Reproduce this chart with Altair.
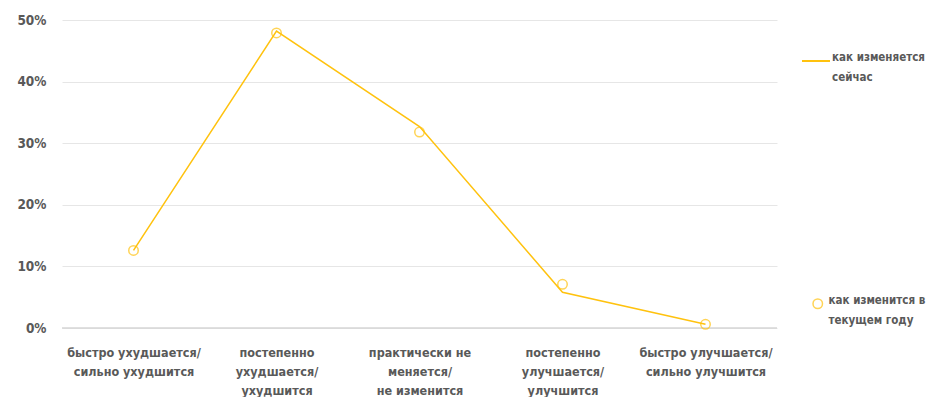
import altair as alt
import pandas as pd

categories = [
    "быстро ухудшается/|сильно ухудшится",
    "постепенно|ухудшается/|ухудшится",
    "практически не|меняется/|не изменится",
    "постепенно|улучшается/|улучшится",
    "быстро улучшается/|сильно улучшится",
]
now_values = [12.6, 48.2, 32.7, 5.8, 0.6]
year_values = [12.6, 47.9, 31.8, 7.1, 0.6]
series_now = "как изменяется|сейчас"
series_year = "как изменится в|текущем году"
y_ticks = [0, 10, 20, 30, 40, 50]

YELLOW = "#FFC20E"
TEXT = "#595959"
FONT = "DejaVu Sans Condensed"

df_now = pd.DataFrame({"cat": categories, "v": now_values, "s": series_now})
df_year = pd.DataFrame({"cat": categories, "v": year_values, "s": series_year})

x = alt.X(
    "cat:N",
    sort=categories,
    scale=alt.Scale(paddingInner=0, paddingOuter=0),
    axis=alt.Axis(
        title=None, labelAngle=0, ticks=False, domain=False,
        labelExpr="split(datum.value, '|')", labelLineHeight=19,
        labelPadding=24, labelFontSize=12.5, labelFont=FONT,
        labelFontWeight="bold", labelColor=TEXT, labelBaseline="middle",
        grid=False,
    ),
)
y = alt.Y(
    "v:Q",
    scale=alt.Scale(domain=[0, 50], nice=False),
    axis=alt.Axis(
        title=None, values=y_ticks, labelExpr="datum.value + '%'",
        ticks=False, domain=False, labelPadding=16, labelFontSize=13.5,
        labelFont=FONT, labelFontWeight="bold", labelColor=TEXT,
        gridColor="#e6e6e6", gridWidth=1,
    ),
)

line = alt.Chart(df_now).mark_line(strokeWidth=1.5).encode(
    x=x, y=y,
    stroke=alt.Stroke(
        "s:N",
        scale=alt.Scale(domain=[series_now], range=[YELLOW]),
        legend=alt.Legend(
            title=None, orient="none", legendX=739, legendY=26,
            symbolType="stroke", symbolSize=784, symbolStrokeWidth=2,
            labelExpr="split(datum.label, '|')",
            labelFont=FONT, labelFontSize=11.5, labelFontWeight="bold",
            labelColor=TEXT, labelOffset=1, labelBaseline="alphabetic",
            padding=0, labelLimit=300,
        ),
    ),
)

points = alt.Chart(df_year).mark_point(filled=False, size=90, strokeWidth=1.5).encode(
    x=x, y=y,
    shape=alt.Shape(
        "s:N",
        scale=alt.Scale(domain=[series_year], range=["circle"]),
        legend=alt.Legend(
            title=None, orient="none", legendX=750, legendY=278,
            symbolStrokeColor=YELLOW, symbolFillColor="transparent",
            symbolSize=90, symbolStrokeWidth=1.5,
            labelExpr="split(datum.label, '|')",
            labelFont=FONT, labelFontSize=11.5, labelFontWeight="bold",
            labelColor=TEXT, labelOffset=5, labelBaseline="alphabetic",
            padding=0, labelLimit=300,
        ),
    ),
    color=alt.value(YELLOW),
)

baseline = alt.Chart(pd.DataFrame({"v": [0]})).mark_rule(color="#d6d6d6", strokeWidth=1.5).encode(
    y=alt.Y("v:Q", scale=alt.Scale(domain=[0, 50]))
)

chart = alt.layer(line, baseline, points).properties(
    width=715, height=308,
    autosize=alt.AutoSizeParams(type="none"),
    padding={"left": 54, "top": 12, "right": 152, "bottom": 69},
).configure(
    background="white",
    style={"guide-label": {"lineHeight": 20}},
).configure_view(stroke="transparent")

chart.save("out.html", embed_options={"renderer": "svg", "actions": False})
